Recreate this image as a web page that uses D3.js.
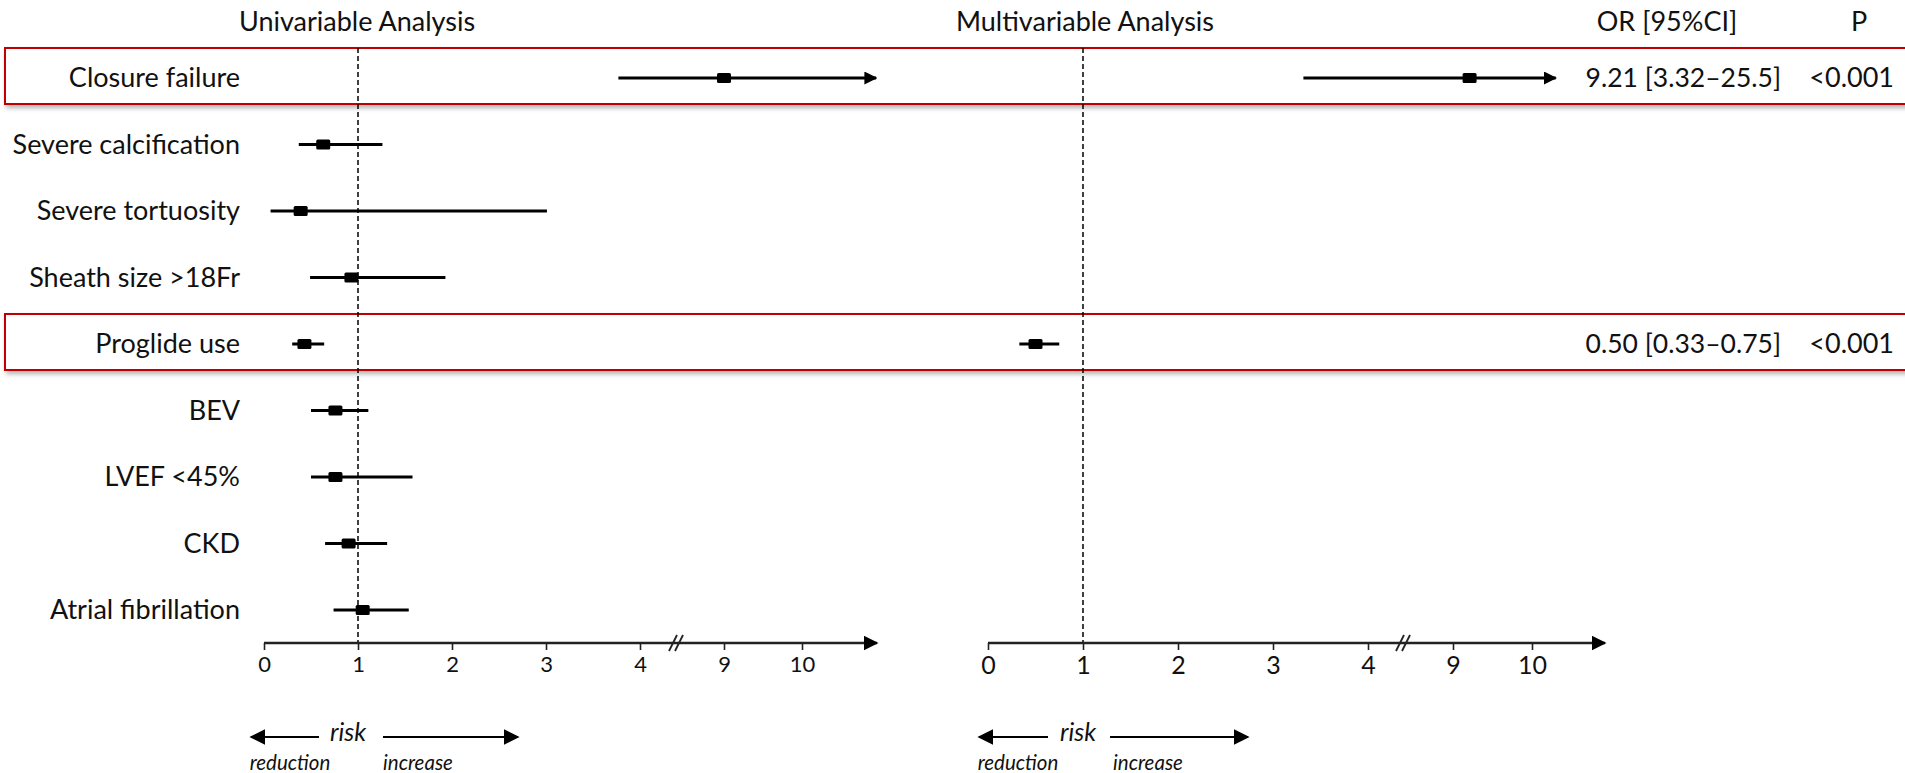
<!DOCTYPE html>
<html>
<head>
<meta charset="utf-8">
<script src="https://cdn.jsdelivr.net/npm/d3@7/dist/d3.min.js"></script>
<style>
  html, body { margin: 0; padding: 0; background: #fff; }
  text { font-family: Lato, "Open Sans", sans-serif; fill: #111; }
</style>
</head>
<body>
<script>
// data
var labels = ['Closure failure', 'Severe calcification', 'Severe tortuosity', 'Sheath size >18Fr',
  'Proglide use', 'BEV', 'LVEF <45%', 'CKD', 'Atrial fibrillation']
var uniOR = [9.0, 0.63, 0.39, 0.93, 0.43, 0.76, 0.76, 0.90, 1.05]
var uniLo = [3.77, 0.37, 0.07, 0.49, 0.30, 0.50, 0.50, 0.65, 0.74]
var uniHi = [12, 1.26, 3.01, 1.93, 0.64, 1.11, 1.58, 1.31, 1.54] // closure failure runs off the scale
var multiOR = [9.21, null, null, null, 0.50, null, null, null, null]
var multiLo = [3.32, null, null, null, 0.33, null, null, null, null]
var multiHi = [25.5, null, null, null, 0.75, null, null, null, null]
var orText = ['9.21 [3.32\u201325.5]', '', '', '', '0.50 [0.33\u20130.75]', '', '', '', '']
var pText = ['<0.001', '', '', '', '<0.001', '', '', '', '']
var tickVals = [0, 1, 2, 3, 4, 9, 10]
var breakDomain = [0, 4, 9, 10] // broken axis: 4 .. 9 squeezed

//layout
var w = 1905, h = 773,
    axisY = 643,
    labelRight = 240,
    fs = '27px',
    uniClip = 10.95, multiClip = 10.3

var svg = d3.select('body').append('svg')
    .attr('width', w)
    .attr('height', h)

var defs = svg.append('defs')
var shadow = defs.append('filter').attr('id', 'shadow')
    .attr('x', '-5%').attr('y', '-30%').attr('width', '110%').attr('height', '170%')
shadow.append('feDropShadow')
    .attr('dx', 2).attr('dy', 3).attr('stdDeviation', 2.5)
    .attr('flood-color', '#000').attr('flood-opacity', 0.3)

// arrow heads
function marker(id, size) {
  defs.append('marker').attr('id', id)
      .attr('viewBox', '0 -5 10 10')
      .attr('refX', 9).attr('refY', 0)
      .attr('markerUnits', 'userSpaceOnUse')
      .attr('markerWidth', size).attr('markerHeight', size)
      .attr('orient', 'auto-start-reverse')
    .append('path').attr('d', 'M0,-5L10,0L0,5Z').attr('fill', '#000')
}
marker('arrBar', 13)
marker('arrAxis', 15)
marker('arrRisk', 16)

var y = d3.scalePoint().domain(d3.range(labels.length)).range([78, 610])

var panels = [
  {title: 'Univariable Analysis', titleX: 357, x: d3.scaleLinear().domain(breakDomain).range([264, 640, 724, 802]),
   end: 877, brk: 676, or: uniOR, lo: uniLo, hi: uniHi, clip: uniClip, tickSize: 22,
   risk: {l: 251, l2: 319, c: 348, r1: 383, r: 518, red: 290, inc: 418}},
  {title: 'Multivariable Analysis', titleX: 1085, x: d3.scaleLinear().domain(breakDomain).range([988, 1368, 1453, 1532]),
   end: 1605, brk: 1403, or: multiOR, lo: multiLo, hi: multiHi, clip: multiClip, tickSize: 25,
   risk: {l: 979, l2: 1048, c: 1078, r1: 1110, r: 1248, red: 1018, inc: 1148}}
]

// red boxes round rows kept in the multivariable model
var boxed = d3.range(labels.length).filter(function(i) { return multiOR[i] != null })
svg.selectAll('.hl').data(boxed).enter().append('rect')
    .attr('class', 'hl')
    .attr('x', 5)
    .attr('y', function(i) { return y(i) - 30 })
    .attr('width', w + 20)
    .attr('height', 56)
    .attr('fill', '#fff')
    .attr('stroke', '#c00000')
    .attr('stroke-width', 2)
    .attr('filter', 'url(#shadow)')

// headers
svg.selectAll('.ttl').data(panels).enter().append('text')
    .attr('x', function(d) { return d.titleX })
    .attr('y', 31)
    .attr('text-anchor', 'middle')
    .style('font-size', fs)
    .text(function(d) { return d.title })
svg.append('text').attr('x', 1667).attr('y', 31).attr('text-anchor', 'middle')
    .style('font-size', fs).text('OR [95%CI]')
svg.append('text').attr('x', 1859).attr('y', 31).attr('text-anchor', 'middle')
    .style('font-size', fs).text('P')

// row labels
svg.selectAll('.lbl').data(labels).enter().append('text')
    .attr('x', labelRight)
    .attr('y', function(d, i) { return y(i) + 9 })
    .attr('text-anchor', 'end')
    .style('font-size', fs)
    .text(function(d) { return d })

svg.selectAll('.ortx').data(orText).enter().append('text')
    .attr('x', 1781)
    .attr('y', function(d, i) { return y(i) + 9 })
    .attr('text-anchor', 'end')
    .style('font-size', '26.5px')
    .text(function(d) { return d })
svg.selectAll('.ptx').data(pText).enter().append('text')
    .attr('x', 1894)
    .attr('y', function(d, i) { return y(i) + 9 })
    .attr('text-anchor', 'end')
    .style('font-size', fs)
    .text(function(d) { return d })

panels.forEach(function(p) {
  var g = svg.append('g')
  var x = p.x

  // reference line at OR = 1
  g.append('line')
      .attr('x1', x(1)).attr('x2', x(1))
      .attr('y1', 48).attr('y2', axisY)
      .attr('stroke', '#000').attr('stroke-width', 1.5)
      .attr('stroke-dasharray', '5,3')

  // axis
  var ax = g.append('g')
      .attr('transform', 'translate(0,' + axisY + ')')
      .call(d3.axisBottom(x).tickValues(tickVals).tickSize(7).tickPadding(6).tickFormat(d3.format('d')))
  ax.select('.domain').remove()
  ax.selectAll('.tick line').attr('stroke', '#222').attr('stroke-width', 1.6)
  ax.selectAll('.tick text')
      .style('font-size', p.tickSize + 'px')
      .style('font-family', 'Lato, sans-serif')
      .attr('fill', '#111')
  g.append('line')
      .attr('x1', x(0)).attr('x2', p.end)
      .attr('y1', axisY).attr('y2', axisY)
      .attr('stroke', '#222').attr('stroke-width', 2.5)
      .attr('marker-end', 'url(#arrAxis)')

  // break marks
  g.selectAll('.brk').data([-3, 3]).enter().append('line')
      .attr('x1', function(d) { return p.brk + d - 4 })
      .attr('x2', function(d) { return p.brk + d + 4 })
      .attr('y1', axisY + 8).attr('y2', axisY - 8)
      .attr('stroke', '#222').attr('stroke-width', 1.8)

  // confidence intervals
  var rows = d3.range(labels.length).filter(function(i) { return p.or[i] != null })
  g.selectAll('.ci').data(rows).enter().append('line')
      .attr('x1', function(i) { return x(p.lo[i]) })
      .attr('x2', function(i) { return x(Math.min(p.hi[i], p.clip)) })
      .attr('y1', function(i) { return y(i) })
      .attr('y2', function(i) { return y(i) })
      .attr('stroke', '#000').attr('stroke-width', 3)
      .attr('marker-end', function(i) { return p.hi[i] > p.clip ? 'url(#arrBar)' : null })
  g.selectAll('.pt').data(rows).enter().append('rect')
      .attr('x', function(i) { return x(p.or[i]) - 7 })
      .attr('y', function(i) { return y(i) - 5 })
      .attr('width', 14).attr('height', 10)
      .attr('rx', 1.5)
      .attr('fill', '#000')

  // risk reduction / increase legend
  var r = p.risk, ry = 737
  g.append('line').attr('x1', r.l2).attr('x2', r.l).attr('y1', ry).attr('y2', ry)
      .attr('stroke', '#000').attr('stroke-width', 2).attr('marker-end', 'url(#arrRisk)')
  g.append('line').attr('x1', r.r1).attr('x2', r.r).attr('y1', ry).attr('y2', ry)
      .attr('stroke', '#000').attr('stroke-width', 2).attr('marker-end', 'url(#arrRisk)')
  g.append('text').attr('x', r.c).attr('y', ry + 4).attr('text-anchor', 'middle')
      .style('font-size', '25px').style('font-style', 'italic').text('risk')
  g.append('text').attr('x', r.red).attr('y', 770).attr('text-anchor', 'middle')
      .style('font-size', '20.5px').style('font-style', 'italic').text('reduction')
  g.append('text').attr('x', r.inc).attr('y', 770).attr('text-anchor', 'middle')
      .style('font-size', '20.5px').style('font-style', 'italic').text('increase')
})
</script>
</body>
</html>
